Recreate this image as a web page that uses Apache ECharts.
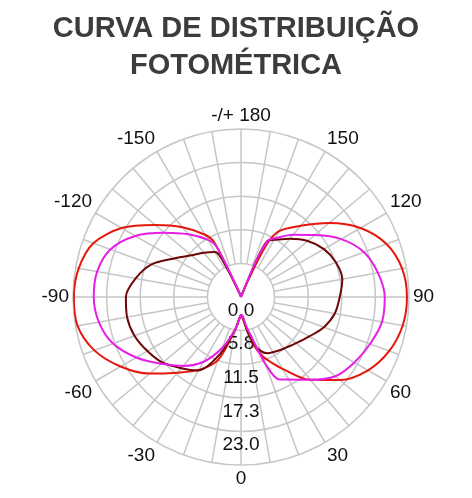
<!DOCTYPE html>
<html>
<head>
<meta charset="utf-8">
<script src="https://cdn.jsdelivr.net/npm/echarts@6/dist/echarts.min.js"></script>
<style>
    html, body { margin: 0; padding: 0; background: #fff; }
    #chart { width: 472px; height: 498px; }
</style>
</head>
<body>
<div id="chart"></div>
<script>
// angles in degrees: 0 = down, 90 = right, +/-180 = up
var angles = [-180, -170, -160, -157, -154, -150, -140, -130, -120, -110, -100, -90, -80, -70, -60, -50, -40, -30, -20, -10,
    -5, 0, 5, 10, 15, 20, 25, 30, 40, 50, 60, 70, 80, 90, 100, 110, 120, 130, 140, 150, 154, 157, 160, 170, 180];

var redValues = [0, 0, 0.5, 2.1, 10.3, 12.3, 15.6, 19.2, 23.6, 26.9, 28.2, 28.6, 28.4, 26.7, 23.8, 20.4, 16.9, 14.4, 11.5, 5.6,
    3.9, 3.1, 3.8, 5.6, 8.6, 10.8, 12.4, 14.2, 18.5, 22.1, 25.1, 27.0, 28.1, 28.4, 28.0, 26.5, 23.6, 19.7, 15.9, 13.0, 9.9, 3.1, 0.3, 0, 0];

var magentaValues = [0, 0, 0.5, 1.7, 9.6, 11.3, 14.0, 17.1, 20.9, 23.8, 25.0, 25.2, 24.7, 23.3, 20.7, 17.8, 15.4, 12.8, 9.2, 5.6,
    3.9, 3.1, 3.3, 5.0, 7.2, 12.2, 15.6, 16.3, 18.5, 21.1, 22.4, 23.5, 24.5, 24.6, 23.8, 22.4, 19.8, 16.5, 13.9, 11.6, 10.8, 7.7, 0.5, 0, 0];

var maroonValues = [0, 0, 0.3, 0.9, 5.1, 8.9, 9.9, 11.1, 13.2, 16.3, 18.3, 19.7, 19.8, 19.4, 18.5, 17.5, 15.9, 14.5, 10.3, 5.6,
    3.9, 3.1, 3.4, 5.6, 8.2, 9.8, 10.6, 10.9, 11.5, 12.3, 13.5, 15.1, 16.3, 16.9, 17.6, 17.3, 16.4, 14.9, 13.0, 11.3, 10.8, 7.7, 0.5, 0, 0];

var radiusMax = 28.75;
var radiusStep = 5.75;

var gridColor = '#c6c6c6';
var font = 'Liberation Sans, Arial, sans-serif';

function toPoints(vals) {
    // echarts polar data is [radius, angle]
    return vals.map(function (v, i) {
        return [v, (angles[i] + 360) % 360];
    });
}

function angleLabel(v) {
    if (v % 30 !== 0 || v >= 360) return '';
    if (v === 180) return '-/+ 180';
    return String(v > 180 ? v - 360 : v);
}

function curve(name, vals, color) {
    return {
        name: name,
        type: 'line',
        coordinateSystem: 'polar',
        polarIndex: 1,
        showSymbol: false,
        smooth: 0.3,
        data: toPoints(vals),
        lineStyle: {color: color, width: 2},
        itemStyle: {color: color}
    };
}

var chart = echarts.init(document.getElementById('chart'));

var option = {
    backgroundColor: '#fff',
    animation: false,
    title: {
        text: 'CURVA DE DISTRIBUIÇÃO\nFOTOMÉTRICA',
        left: 'center',
        top: 5,
        textStyle: {
            fontFamily: font,
            fontSize: 29,
            fontWeight: 'bold',
            lineHeight: 37,
            color: '#3c3c3c'
        }
    },
    polar: [
        {center: [241, 297], radius: [33.6, 168]},
        {center: [241, 297], radius: [0, 168]}
    ],
    angleAxis: [
        {
            polarIndex: 0,
            type: 'value',
            min: 0,
            max: 360,
            interval: 10,
            startAngle: 270,
            clockwise: false,
            axisLine: {show: false},
            axisTick: {show: false},
            splitLine: {show: true, lineStyle: {color: gridColor, width: 1.5}},
            axisLabel: {
                formatter: angleLabel,
                margin: 4,
                fontSize: 19,
                color: '#111',
                fontFamily: font
            }
        },
        {
            polarIndex: 1,
            type: 'value',
            min: 0,
            max: 360,
            startAngle: 270,
            clockwise: false,
            show: false
        }
    ],
    radiusAxis: [
        {
            polarIndex: 0,
            type: 'value',
            min: 5.75,
            max: radiusMax,
            show: false
        },
        {
            polarIndex: 1,
            type: 'value',
            min: 0,
            max: radiusMax,
            interval: radiusStep,
            axisLine: {show: false},
            axisTick: {show: false},
            splitLine: {show: true, lineStyle: {color: gridColor, width: 1.5}},
            axisLabel: {
                formatter: function (v) {
                    return v >= radiusMax - 0.01 ? '' : v.toFixed(1);
                },
                align: 'center',
                verticalAlign: 'top',
                lineHeight: 27,
                margin: 0,
                rotate: 0,
                fontSize: 19,
                color: '#111',
                fontFamily: font
            }
        }
    ],
    series: [
        curve('red', redValues, '#e5170c'),
        curve('maroon', maroonValues, '#6e0606'),
        curve('magenta', magentaValues, '#e61fe6')
    ]
};

chart.setOption(option);
</script>
</body>
</html>
